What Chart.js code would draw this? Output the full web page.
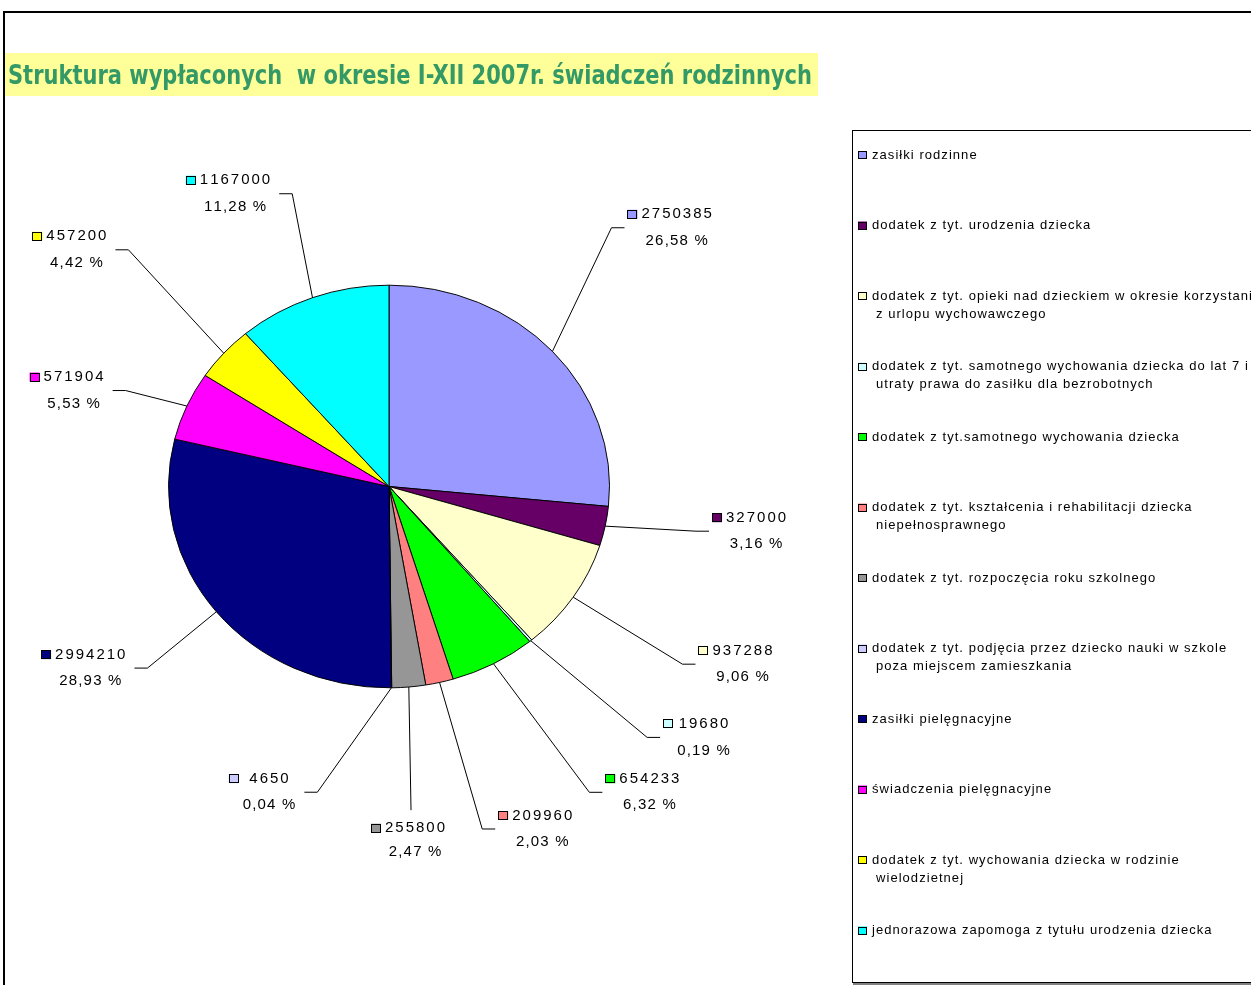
<!DOCTYPE html>
<html>
<head>
<meta charset="utf-8">
<script src="https://cdn.jsdelivr.net/npm/chart.js@4.4.1/dist/chart.umd.min.js"></script>
<style>
html,body{margin:0;padding:0;background:#fff;overflow:hidden}
canvas{display:block}
</style>
</head>
<body>
<canvas id="c" width="1251" height="985"></canvas>
<script>
// ---------- data ----------
const chartTitle = 'Struktura wypłaconych  w okresie I-XII 2007r. świadczeń rodzinnych';
const categories = [
  ['zasiłki rodzinne'],
  ['dodatek z tyt. urodzenia dziecka'],
  ['dodatek z tyt. opieki nad dzieckiem w okresie korzystania', 'z urlopu wychowawczego'],
  ['dodatek z tyt. samotnego wychowania dziecka do lat 7 i', 'utraty prawa do zasiłku dla bezrobotnych'],
  ['dodatek z tyt.samotnego wychowania dziecka'],
  ['dodatek z tyt. kształcenia i rehabilitacji dziecka', 'niepełnosprawnego'],
  ['dodatek z tyt. rozpoczęcia roku szkolnego'],
  ['dodatek z tyt. podjęcia przez dziecko nauki w szkole', 'poza miejscem zamieszkania'],
  ['zasiłki pielęgnacyjne'],
  ['świadczenia pielęgnacyjne'],
  ['dodatek z tyt. wychowania dziecka w rodzinie', 'wielodzietnej'],
  ['jednorazowa zapomoga z tytułu urodzenia dziecka']
];
const values = [2750385, 327000, 937288, 19680, 654233, 209960, 255800, 4650, 2994210, 571904, 457200, 1167000];

// ---------- styles / layout ----------
const sliceColors = ['#9999FF', '#660066', '#FFFFCC', '#CCFFFF', '#00FF00', '#FF8080',
                     '#969696', '#CCCCFF', '#000080', '#FF00FF', '#FFFF00', '#00FFFF'];
// leader elbow distance (in pie radii) and angular shift (degrees) from slice middle
const labelDistance = [1.634, 1.41, 1.597, 1.71, 1.77, 1.753, 1.611, 1.553, 1.419, 1.286, 1.667, 1.519];
const labelShift    = [-9.7, -2.3, 0.2, -3.2, -2.6, -0.7, 1.6, 12.7, -1.0, -1.8, 3.4, 3.5];
const ellipseRatio = 0.913;

const total = values.reduce((a, b) => a + b, 0);

function spacedWidth(ctx, s, sp) {
  let w = 0;
  for (const ch of s) w += ctx.measureText(ch).width + sp;
  return s.length ? w - sp : 0;
}
function drawSpaced(ctx, s, x, y, sp) {
  for (const ch of s) {
    ctx.fillText(ch, x, y);
    x += ctx.measureText(ch).width + sp;
  }
}

const framePlugin = {
  id: 'frame',
  beforeDraw(chart) {
    const ctx = chart.ctx;
    ctx.save();
    ctx.fillStyle = '#fff';
    ctx.fillRect(0, 0, chart.width, chart.height);
    // outer frame
    ctx.fillStyle = '#000';
    ctx.fillRect(3, 11, chart.width, 2);
    ctx.fillRect(3, 11, 2, chart.height);
    // title band
    ctx.fillStyle = '#FFFF99';
    ctx.fillRect(5, 53, 813, 43);
    ctx.font = 'bold 27px "Liberation Sans Narrow", "DejaVu Sans Condensed", "Arial Narrow", sans-serif';
    ctx.textBaseline = 'alphabetic';
    ctx.textAlign = 'left';
    ctx.fillStyle = '#339966';
    const w = ctx.measureText(chartTitle).width;
    const sx = 804 / w;
    ctx.translate(8, 84);
    ctx.scale(sx, 1);
    ctx.fillText(chartTitle, 0, 0);
    ctx.restore();
  }
};

const ellipsePlugin = {
  id: 'ellipse',
  beforeDatasetsDraw(chart) {
    const arc = chart.getDatasetMeta(0).data[0];
    const ctx = chart.ctx;
    ctx.save();
    ctx.translate(arc.x, arc.y);
    ctx.scale(1, ellipseRatio);
    ctx.translate(-arc.x, -arc.y);
  },
  afterDatasetsDraw(chart) {
    chart.ctx.restore();
  }
};

const labelPlugin = {
  id: 'labels',
  afterDraw(chart) {
    const ctx = chart.ctx;
    const meta = chart.getDatasetMeta(0);
    const colors = chart.data.datasets[0].backgroundColor;
    ctx.save();
    ctx.textBaseline = 'middle';
    ctx.textAlign = 'left';
    ctx.lineWidth = 1;
    ctx.strokeStyle = '#000';
    const spV = 2.0, spP = 1.2;
    ctx.font = '15px "Liberation Sans", Arial, sans-serif';
    meta.data.forEach((arc, i) => {
      const rx = arc.outerRadius, ry = rx * ellipseRatio;
      const mid = (arc.startAngle + arc.endAngle) / 2;
      const ex = arc.x + rx * Math.cos(mid), ey = arc.y + ry * Math.sin(mid);
      const a = mid + labelShift[i] * Math.PI / 180;
      const bx = arc.x + rx * labelDistance[i] * Math.cos(a);
      const by = arc.y + ry * labelDistance[i] * Math.sin(a);
      const side = Math.cos(a) > 0.15 ? 1 : (Math.cos(a) < -0.15 ? -1 : 0);
      const tx = bx + side * 13;
      ctx.beginPath();
      ctx.moveTo(ex, ey);
      ctx.lineTo(bx, by);
      if (side !== 0) ctx.lineTo(tx, by);
      ctx.stroke();

      const vStr = String(chart.data.datasets[0].data[i]);
      const pStr = (chart.data.datasets[0].data[i] / total * 100).toFixed(2).replace('.', ',') + ' %';
      const vw = spacedWidth(ctx, vStr, spV), pw = spacedWidth(ctx, pStr, spP);
      const col = Math.max(vw, pw);
      let colL, y1, y2;
      if (side === 1) {
        colL = tx + 3 + 10 + 4; y1 = by - 13.5; y2 = by + 13;
      } else if (side === -1) {
        colL = tx - 9 - col; y1 = by - 13.5; y2 = by + 13;
      } else {
        colL = bx - (14 + col) / 2 + 14 - 3; y1 = by + 18; y2 = by + 42;
      }
      const sqL = colL - 4 - 10;
      ctx.fillStyle = colors[i];
      ctx.fillRect(sqL, y1 - 4.5, 10, 9);
      ctx.strokeRect(Math.round(sqL) + 0.5, Math.round(y1 - 4.5) + 0.5, 9, 8);
      ctx.fillStyle = '#000';
      drawSpaced(ctx, vStr, colL + (col - vw) / 2, y1, spV);
      drawSpaced(ctx, pStr, colL + (col - pw) / 2, y2, spP);
    });

    // legend
    ctx.strokeStyle = '#000';
    ctx.strokeRect(852.5, 130.5, 460, 852);
    ctx.fillStyle = '#808080';
    ctx.fillRect(853, 983, 460, 2);
    ctx.font = '13px "Liberation Sans", Arial, sans-serif';
    chart.data.labels.forEach((lines, i) => {
      const y = 155 + 70.5 * i;
      ctx.fillStyle = colors[i];
      ctx.fillRect(858, y - 4, 9, 8);
      ctx.strokeRect(858.5, Math.round(y - 4) + 0.5, 8, 7);
      ctx.fillStyle = '#000';
      lines.forEach((ln, j) => {
        drawSpaced(ctx, ln, j === 0 ? 872 : 876, y + 18 * j, 1.05);
      });
    });
    ctx.restore();
  }
};

const cx = 389, cy = 486.5, r = 221;
new Chart(document.getElementById('c'), {
  type: 'pie',
  data: {
    labels: categories,
    datasets: [{
      data: values,
      backgroundColor: sliceColors,
      borderColor: '#000',
      borderWidth: 1,
      clip: false
    }]
  },
  options: {
    responsive: false,
    animation: false,
    events: [],
    layout: { padding: { left: cx - r, right: 1251 - (cx + r), top: cy - r, bottom: 985 - (cy + r) } },
    plugins: { legend: { display: false }, tooltip: { enabled: false }, title: { display: false } }
  },
  plugins: [framePlugin, ellipsePlugin, labelPlugin]
});
</script>
</body>
</html>
